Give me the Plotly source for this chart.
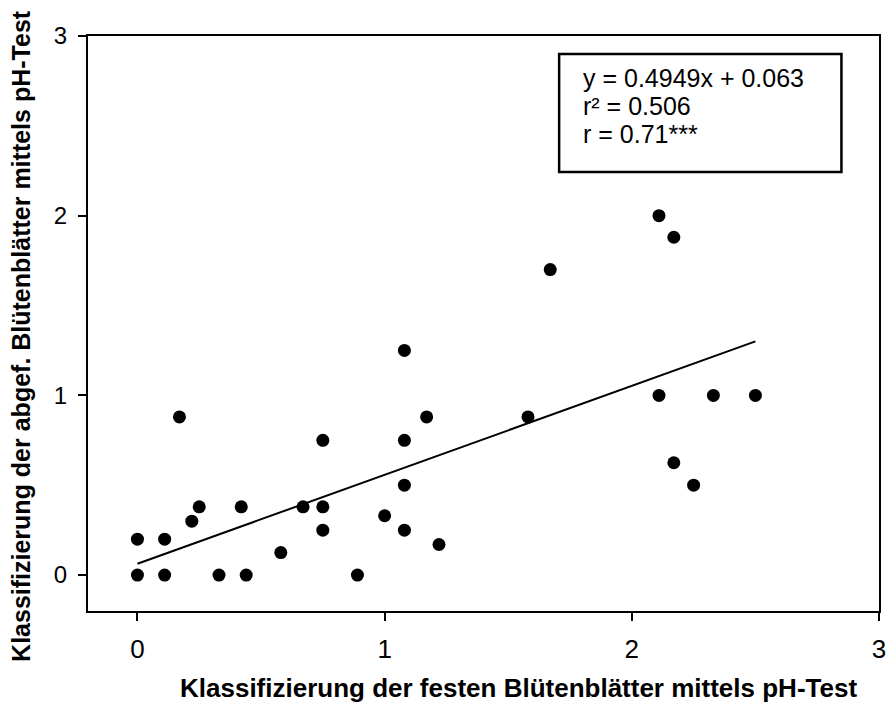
import plotly.graph_objects as go

# Classification scores: solid petals (x) vs. shed petals (y), both via pH test
x_fest = [0, 0, 0.11, 0.11, 0.17, 0.22, 0.25, 0.33, 0.42, 0.44,
          0.58, 0.67, 0.75, 0.75, 0.75, 0.89, 1.0, 1.08, 1.08, 1.08,
          1.08, 1.17, 1.22, 1.58, 1.67, 2.11, 2.17, 2.11, 2.33, 2.5,
          2.17, 2.25]
y_abgef = [0, 0.2, 0, 0.2, 0.88, 0.3, 0.38, 0, 0.38, 0,
           0.125, 0.38, 0.75, 0.38, 0.25, 0, 0.33, 1.25, 0.75, 0.5,
           0.25, 0.88, 0.17, 0.88, 1.7, 2.0, 1.88, 1.0, 1.0, 1.0,
           0.625, 0.5]

# Linear regression as reported in the statistics box
slope = 0.4949
intercept = 0.063
stats_lines = ["y = 0.4949x + 0.063", "r² = 0.506", "r = 0.71***"]

x_ticks = [0, 1, 2, 3]
y_ticks = [0, 1, 2, 3]

x_title = "Klassifizierung der festen Blütenblätter mittels pH-Test"
y_title = "Klassifizierung der abgef. Blütenblätter mittels pH-Test"

FONT = "Liberation Sans, Arial, sans-serif"

line_x = [min(x_fest), max(x_fest)]
line_y = [slope * v + intercept for v in line_x]

fig = go.Figure()
fig.add_trace(go.Scatter(
    x=line_x, y=line_y, mode="lines",
    line=dict(color="black", width=2), hoverinfo="skip",
))
fig.add_trace(go.Scatter(
    x=x_fest, y=y_abgef, mode="markers",
    marker=dict(color="black", size=13, line=dict(width=0)),
))

axis_common = dict(
    showgrid=False, zeroline=False, automargin=False,
    showline=True, linecolor="black", linewidth=2, mirror=True,
    ticks="outside", ticklen=8, tickwidth=2, tickcolor="black",
)

fig.update_xaxes(range=[-0.2, 3], tickvals=x_ticks, ticklabelstandoff=6,
                 tickfont=dict(family=FONT, size=26, color="black"),
                 **axis_common)
fig.update_yaxes(range=[-0.2, 3], tickvals=y_ticks, ticklabelstandoff=6,
                 tickfont=dict(family=FONT, size=24, color="black"),
                 **axis_common)

# Statistics box
fig.add_shape(type="rect", xref="x", yref="y",
              x0=1.706, x1=2.848, y0=2.243, y1=2.90,
              line=dict(color="black", width=2.5), fillcolor="white",
              layer="below")

for txt, yy in zip(stats_lines, [2.766, 2.61, 2.455]):
    fig.add_annotation(x=1.794, y=yy, xref="x", yref="y", text=txt,
                       showarrow=False, xanchor="left", yanchor="middle",
                       font=dict(family=FONT, size=25, color="black"))

# Axis titles
fig.add_annotation(x=0.544, y=-0.134, xref="paper", yref="paper",
                   text="<b>" + x_title + "</b>", showarrow=False,
                   xanchor="center", yanchor="middle",
                   font=dict(family=FONT, size=26, color="black"))
fig.add_annotation(x=-0.085, y=0.478, xref="paper", yref="paper",
                   text="<b>" + y_title + "</b>", showarrow=False,
                   textangle=-90, xanchor="center", yanchor="middle",
                   font=dict(family=FONT, size=25, color="black"))

fig.update_layout(
    width=888, height=704,
    margin=dict(l=88, r=9, t=36, b=93),
    paper_bgcolor="white", plot_bgcolor="white",
    showlegend=False,
)

fig.write_html("out.html")
